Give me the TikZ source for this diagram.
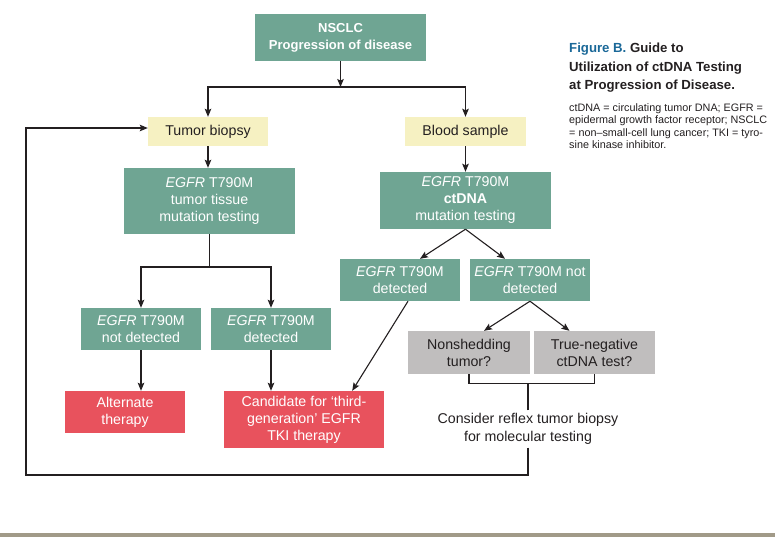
\documentclass[tikz,border=0pt]{standalone}
\usepackage{fontspec}
\setmainfont{Liberation Sans}
\usepackage{tikz}
\usetikzlibrary{arrows.meta, calc}
\definecolor{boxgreen}{RGB}{111,165,147}
\definecolor{boxred}{RGB}{232,82,93}
\definecolor{boxyellow}{RGB}{246,241,194}
\definecolor{boxgray}{RGB}{192,190,190}
\definecolor{figblue}{RGB}{26,104,152}
\definecolor{barcol}{RGB}{161,154,136}
\definecolor{inkcol}{RGB}{35,31,32}

\begin{document}
\begin{tikzpicture}[
    x=1pt, y=-1pt,
    every node/.style={font=\fontsize{14.2}{17}\selectfont, inner sep=0pt, align=center},
    box/.style={rectangle, minimum width=120pt, minimum height=42pt},
    greenbox/.style={box, fill=boxgreen, text=white},
    redbox/.style={box, fill=boxred, text=white},
    yellowbox/.style={box, fill=boxyellow, text=inkcol, minimum height=29pt},
    graybox/.style={box, fill=boxgray, text=inkcol, minimum height=43pt},
    line/.style={draw=inkcol, line width=1.1pt},
    arrow/.style={line, -{Stealth[length=8pt, width=6.5pt, inset=1.5pt]}}
]
\useasboundingbox (0,0) rectangle (775,544);
% Start and first split
\node[greenbox, minimum width=171pt, minimum height=47pt, font=\fontsize{13}{17}\selectfont\bfseries] (nsclc) at (340.5,37.5) {NSCLC\\Progression of disease};
\coordinate (topsplit) at (340.5,87);
\node[yellowbox] (biopsy) at (208,131.5) {Tumor biopsy};
\node[yellowbox, minimum width=121pt] (blood) at (465.5,131.5) {Blood sample};
% Testing
\node[greenbox, minimum width=171pt, minimum height=66pt] (tissue) at (209.5,201) {\textit{EGFR} T790M\\tumor tissue\\mutation testing};
\node[greenbox, minimum width=171pt, minimum height=57pt] (ctdna) at (465.5,200.5) {\textit{EGFR} T790M\\\textbf{ctDNA}\\mutation testing};
\coordinate (tissplit) at (209.5,267);
% Results
\node[greenbox] (tisneg) at (141,329) {\textit{EGFR} T790M\\not detected};
\node[greenbox] (tispos) at (271,329) {\textit{EGFR} T790M\\detected};
\node[greenbox] (bloodpos) at (400,280) {\textit{EGFR} T790M\\detected};
\node[greenbox] (bloodneg) at (530,280) {\textit{EGFR} T790M not\\detected};
\node[graybox, minimum width=122pt] (shed) at (469,352.5) {Nonshedding\\tumor?};
\node[graybox, minimum width=121pt] (trueneg) at (594.5,352.5) {True-negative\\ctDNA test?};
% Outcomes
\node[redbox] (altther) at (125,412) {Alternate\\therapy};
\node[redbox, minimum width=160pt, minimum height=57pt] (tkither) at (304,419.5) {Candidate for ‘third-\\generation’ EGFR\\TKI therapy};
\node[text=inkcol, minimum height=37pt, font=\fontsize{14.2}{18}\selectfont] (reflex) at (528,429) {Consider reflex tumor biopsy\\for molecular testing};
\coordinate (loopcorner) at (26,475);
% Caption
\node[anchor=north west, align=left, text=inkcol, font=\fontsize{13.2}{18.3}\selectfont\bfseries] (title) at (569,43) {\textcolor{figblue}{Figure B.} Guide to\\Utilization of ctDNA Testing\\at Progression of Disease.};
\node[anchor=north west, align=left, text=inkcol, font=\fontsize{10.8}{12.6}\selectfont] (legend) at (569,103) {ctDNA = circulating tumor DNA; EGFR =\\epidermal growth factor receptor; NSCLC\\= non–small-cell lung cancer; TKI = tyro-\\sine kinase inhibitor.};
% Arrows
\draw[arrow] (nsclc) -- (topsplit);
\draw[arrow] (topsplit) -| (biopsy);
\draw[arrow] (topsplit) -| (blood);
\draw[arrow] (biopsy.south) -- (biopsy.south |- tissue.north);
\draw[arrow] (blood) -- (ctdna);
\draw[line] (tissue) -- (tissplit);
\draw[arrow] (tissplit) -| (tisneg);
\draw[arrow] (tissplit) -| (tispos);
\draw[arrow] (tisneg.south) -- (tisneg.south |- altther.north);
\draw[arrow] (tispos.south) -- (tispos.south |- tkither.north);
\draw[arrow] (ctdna.south) -- ([xshift=20pt]bloodpos.north);
\draw[arrow] (ctdna.south) -- ([xshift=-25pt]bloodneg.north);
\draw[arrow] (bloodneg.south) -- ([xshift=15pt]shed.north);
\draw[arrow] (bloodneg.south) -- ([xshift=-25pt]trueneg.north);
\draw[arrow] ([xshift=8pt]bloodpos.south) -- ([xshift=-32pt]tkither.north east);
% Bracket and loop back
\draw[line] (shed.south) -- ++(0,9) -| (trueneg.south);
\draw[line] (reflex.north) -- ++(0,-27);
\draw[arrow] (reflex.south) |- (loopcorner) |- ([yshift=3.5pt]biopsy.west);
% Bottom rule
\fill[barcol] (0,533) rectangle (775,537);
\end{tikzpicture}
\end{document}
